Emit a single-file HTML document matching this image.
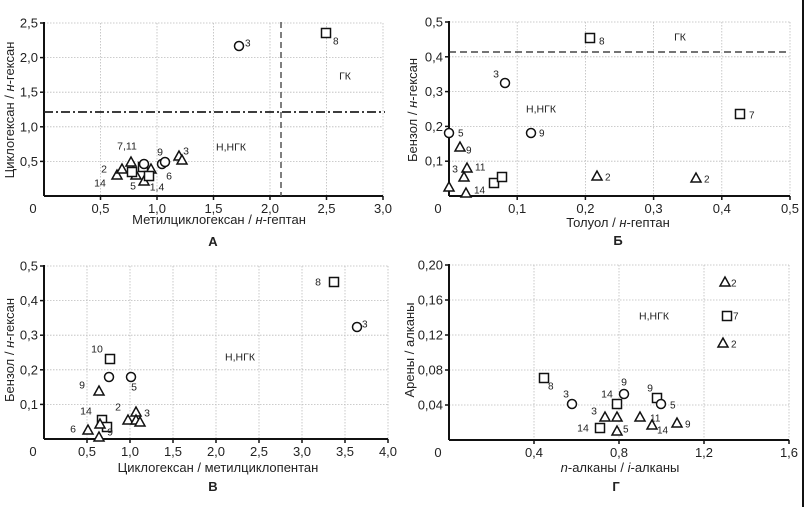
<!DOCTYPE html>
<html><head><meta charset="utf-8">
<style>
html,body{margin:0;padding:0;background:#fff;}
svg{display:block;font-family:"Liberation Sans","DejaVu Sans",sans-serif;}
</style></head>
<body>
<svg id="s" width="808" height="507" viewBox="0 0 808 507" xmlns="http://www.w3.org/2000/svg"></svg>
<script>
var s=document.getElementById('s');var h='';
function line(x1,y1,x2,y2,st){h+='<line x1="'+x1+'" y1="'+y1+'" x2="'+x2+'" y2="'+y2+'" '+st+'/>';}
function txt(x,y,t,st){h+='<text x="'+x+'" y="'+y+'" '+(st||'')+'>'+t+'</text>';}
function panel(x0,x1,y0,y1,xt,yt){
 xt.forEach(function(a){line(a[0],y1,a[0],y0,'stroke="#bbb" stroke-width="0.8" stroke-dasharray="1.5,1.5"');});
 yt.forEach(function(a){line(x0,a[0],x1,a[0],'stroke="#bbb" stroke-width="0.8" stroke-dasharray="1.5,1.5"');});
 line(x0,y0,x1,y0,'stroke="#111" stroke-width="2"');
 line(x0,y0,x0,y1-1,'stroke="#111" stroke-width="2"');
 xt.forEach(function(a){line(a[0],y0,a[0],y0+4,'stroke="#111" stroke-width="1.5"');txt(a[0],y0+17,a[1],'font-size="13" fill="#222" text-anchor="middle"');});
 yt.forEach(function(a){line(x0-4,a[0],x0,a[0],'stroke="#111" stroke-width="1.5"');txt(x0-6,a[0]+4.5,a[1],'font-size="13" fill="#222" text-anchor="end"');});
 txt(x0-11,y0+17,'0','font-size="13" fill="#222" text-anchor="middle"');
}
function ticks(p0,p1,n,labels){var r=[];for(var i=1;i<=n;i++)r.push([p0+(p1-p0)*i/n,labels[i-1]]);return r;}
function tri(x,y){h+='<polygon points="'+x+','+(y-5)+' '+(x-5)+','+(y+4)+' '+(x+5)+','+(y+4)+'" fill="#fff" stroke="#111" stroke-width="1.5"/>';}
function sq(x,y){h+='<rect x="'+(x-4.5)+'" y="'+(y-4.5)+'" width="9" height="9" fill="#fff" stroke="#111" stroke-width="1.5"/>';}
function ci(x,y){h+='<circle cx="'+x+'" cy="'+y+'" r="4.5" fill="#fff" stroke="#111" stroke-width="1.5"/>';}
function lb(x,y,t){txt(x,y+3.5,t,'font-size="10" fill="#222"');}
function lbc(x,y,t){txt(x,y+3.5,t,'font-size="10.5" fill="#222" text-anchor="middle"');}
function xtitle(x,y,t){txt(x,y,t,'font-size="13" fill="#222" text-anchor="middle"');}
function ytitle(x,y,t){txt(0,0,t,'font-size="13" fill="#222" text-anchor="middle" transform="translate('+x+','+y+') rotate(-90)"');}
function big(x,y,t){txt(x,y,t,'font-size="13" font-weight="bold" fill="#222" text-anchor="middle"');}

// Panel A
panel(44,383,196,23,ticks(44,383,6,['0,5','1,0','1,5','2,0','2,5','3,0']),ticks(196,23,5,['0,5','1,0','1,5','2,0','2,5']));
line(281,22,281,196,'stroke="#555" stroke-width="1.5" stroke-dasharray="6,4"');
line(44,112,385,112,'stroke="#222" stroke-width="1.8" stroke-dasharray="9,3,2,3"');
ci(239,46);lb(245,43,'3');sq(326,33);lb(333,41,'8');
[[117,175],[122,169],[131,162],[133,172],[136,175],[144,181],[151,169],[179,156],[182,160]].forEach(function(p){tri(p[0],p[1]);});
[[143,167],[149,176],[132,172]].forEach(function(p){sq(p[0],p[1]);});
[[144,164],[162,164],[165,162]].forEach(function(p){ci(p[0],p[1]);});
lbc(127,146,'7,11');lbc(160,152,'9');lbc(186,151,'3');lbc(104,169,'2');lbc(100,183,'14');lbc(133,186,'5');lbc(157,187,'1,4');lbc(169,176,'6');
lbc(231,147,'Н,НГК');lbc(345,76,'ГК');
xtitle(219,224,'Метилциклогексан / <tspan font-style="italic">н</tspan>-гептан');
ytitle(14,110,'Циклогексан / <tspan font-style="italic">н</tspan>-гексан');
big(213,246,'А');

// Panel B
panel(449,790,196,22,ticks(449,790,5,['0,1','0,2','0,3','0,4','0,5']),ticks(196,22,5,['0,1','0,2','0,3','0,4','0,5']));
line(449,52,790,52,'stroke="#222" stroke-width="1.3" stroke-dasharray="7,4"');
sq(590,38);lb(599,41,'8');lbc(680,37,'ГК');
ci(505,83);lbc(496,74,'3');lbc(541,109,'Н,НГК');
sq(740,114);lb(749,115,'7');
ci(449,133);lb(458,133,'5');ci(531,133);lb(539,133,'9');
tri(460,147);lb(466,150,'9');tri(467,168);lb(475,167,'11');lbc(455,169,'3');tri(464,177);
sq(494,183);sq(502,177);tri(449,187);tri(466,193);lb(474,190,'14');
tri(597,176);lb(605,177,'2');tri(696,178);lb(704,179,'2');
xtitle(618,227,'Толуол / <tspan font-style="italic">н</tspan>-гептан');
ytitle(417,110,'Бензол / <tspan font-style="italic">н</tspan>-гексан');
big(618,245,'Б');

// Panel C
panel(44,388,439,266,ticks(44,388,8,['0,5','1,0','1,5','2,0','2,5','3,0','3,5','4,0']),ticks(439,266,5,['0,1','0,2','0,3','0,4','0,5']));
sq(334,282);lbc(318,282,'8');ci(357,327);lb(362,324,'3');lbc(240,357,'Н,НГК');
sq(110,359);lbc(97,349,'10');ci(109,377);ci(131,377);lbc(82,385,'9');tri(99,391);lbc(134,387,'5');
lbc(86,411,'14');lbc(118,407,'2');tri(128,420);tri(136,412);tri(136,420);tri(140,422);lbc(147,413,'3');
sq(102,420);sq(107,427);tri(100,424);tri(88,430);lbc(73,429,'6');tri(99,437);lbc(110,432,'9');
xtitle(218,472,'Циклогексан / метилциклопентан');
ytitle(14,350,'Бензол / <tspan font-style="italic">н</tspan>-гексан');
big(213,491,'В');

// Panel D
panel(449,789,440,265,ticks(449,789,4,['0,4','0,8','1,2','1,6']),ticks(440,265,5,['0,04','0,08','0,12','0,16','0,20']));
tri(725,282);lb(731,283,'2');sq(727,316);lb(733,316,'7');tri(723,343);lb(731,344,'2');lbc(654,316,'Н,НГК');
sq(544,378);lb(548,386,'8');ci(572,404);lbc(566,394,'3');lbc(607,394,'14');sq(617,404);ci(624,394);lbc(624,382,'9');
lbc(650,388,'9');sq(657,398);ci(661,404);lb(670,405,'5');
lbc(594,411,'3');tri(605,417);tri(617,417);tri(640,417);lb(650,418,'11');tri(652,425);lb(657,430,'14');tri(677,423);lb(685,424,'9');
lbc(583,428,'14');sq(600,428);tri(617,431);lb(623,429,'5');
xtitle(620,472,'<tspan font-style="italic">n</tspan>-алканы / <tspan font-style="italic">i</tspan>-алканы');
ytitle(414,350,'Арены / алканы');
big(616,491,'Г');

line(803,0,803,507,'stroke="#111" stroke-width="2"');
s.innerHTML=h;
</script>
</body></html>
